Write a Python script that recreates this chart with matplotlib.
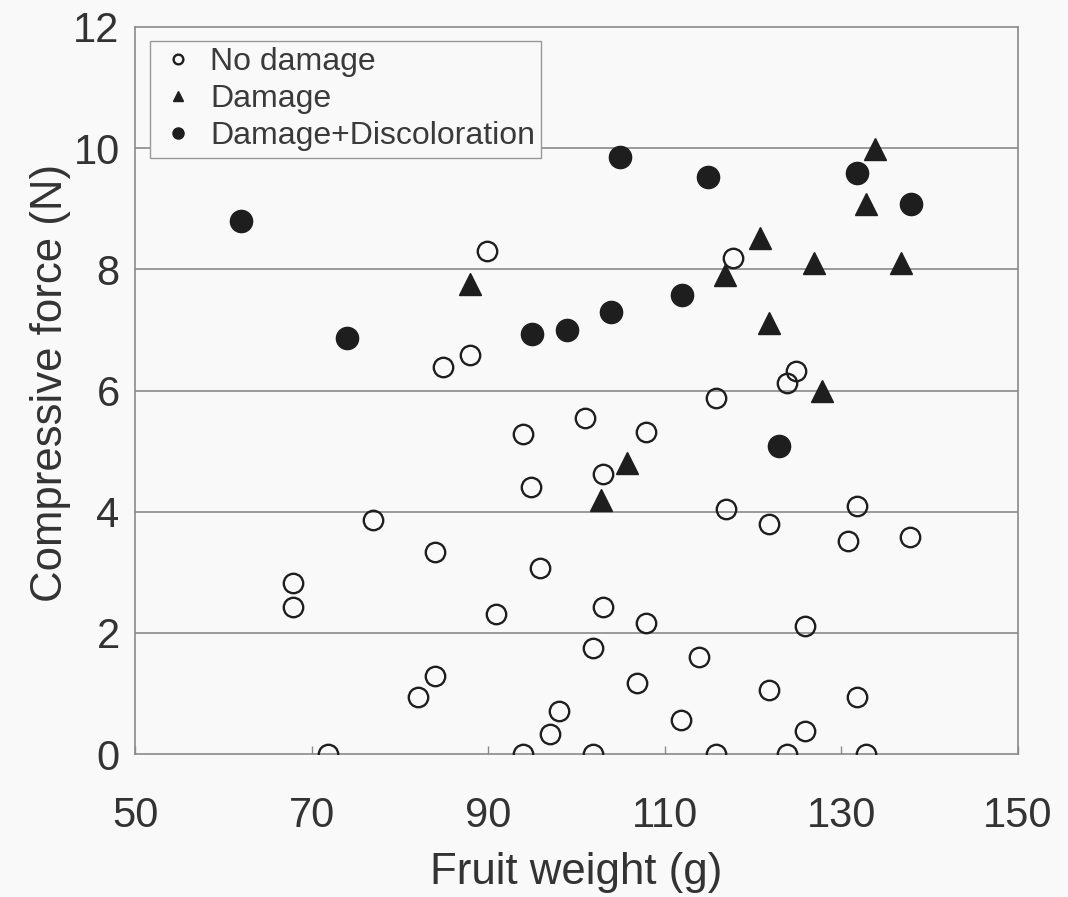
import matplotlib
matplotlib.use("Agg")
import matplotlib.pyplot as plt

# No damage (open circles)
nd_x = [71.9, 67.9, 67.9, 77.0, 84.0, 82.0, 84.0, 84.9, 87.9, 89.9, 90.9, 93.9,
        94.9, 95.9, 93.9, 97.0, 98.0, 101.0, 101.9, 101.9, 103.0, 103.0, 107.9,
        107.9, 106.9, 111.8, 113.9, 115.8, 116.9, 115.8, 117.7, 121.8, 121.8,
        123.8, 123.8, 124.9, 125.9, 125.9, 130.7, 131.8, 131.8, 132.8, 137.8]
nd_y = [0.0, 2.82, 2.42, 3.87, 3.33, 0.94, 1.29, 6.38, 6.58, 8.31, 2.31, 5.29,
        4.40, 3.07, 0.0, 0.33, 0.71, 5.54, 1.75, 0.0, 4.62, 2.42, 5.32,
        2.16, 1.17, 0.56, 1.60, 5.88, 4.05, 0.0, 8.19, 3.79, 1.05,
        0.0, 6.13, 6.33, 2.11, 0.38, 3.51, 4.10, 0.94, 0.0, 3.58]

# Damage (filled triangles)
dm_x = [87.9, 102.8, 105.7, 116.8, 120.8, 121.8, 126.9, 127.8, 132.8, 133.8, 136.7]
dm_y = [7.75, 4.19, 4.80, 7.90, 8.52, 7.12, 8.11, 6.00, 9.08, 9.99, 8.11]

# Damage + Discoloration (filled circles)
dd_x = [62.0, 74.0, 95.0, 98.9, 103.9, 104.9, 114.9, 111.9, 122.9, 131.8, 137.9]
dd_y = [8.79, 6.86, 6.94, 7.00, 7.29, 9.86, 9.53, 7.57, 5.08, 9.59, 9.08]

labels = ["No damage", "Damage", "Damage+Discoloration"]
x_ticks = [50, 70, 90, 110, 130, 150]
y_ticks = [0, 2, 4, 6, 8, 10, 12]

plt.rcParams['font.family'] = ['Liberation Sans', 'DejaVu Sans']

bg = '#faf9fa'
ink = '#1e1e1e'
txt = '#333333'
fig = plt.figure(figsize=(10.68, 8.97), dpi=100, facecolor=bg)
ax = fig.add_axes([0.1264, 0.1594, 0.8268, 0.8105])
ax.set_facecolor(bg)

for yv in y_ticks[1:-1]:
    ax.axhline(yv, color='#8a8a8a', lw=1.2, zorder=1)

ax.plot(nd_x, nd_y, 'o', ls='none', mfc='none', mec=ink, ms=14, mew=1.7,
        label=labels[0], zorder=3)
ax.plot(dm_x, dm_y, '^', ls='none', mfc=ink, mec=ink, ms=15.5, mew=1,
        label=labels[1], zorder=3)
ax.plot(dd_x, dd_y, 'o', ls='none', mfc=ink, mec=ink, ms=16, mew=1,
        label=labels[2], zorder=3)

ax.set_xlim(50, 150)
ax.set_ylim(0, 12)
ax.set_xticks(x_ticks)
ax.set_yticks(y_ticks)

for s in ax.spines.values():
    s.set_color('#8a8a8a')
    s.set_linewidth(1.2)

ax.tick_params(axis='x', direction='in', length=6, width=1, color='#8a8a8a',
               labelsize=30, labelcolor=txt, pad=30)
ax.tick_params(axis='y', length=0, labelsize=30, labelcolor=txt, pad=11)

ax.set_xlabel("Fruit weight (g)", fontsize=31.5, color=txt, labelpad=12)
ax.set_ylabel("Compressive force (N)", fontsize=31.5, color=txt)
ax.yaxis.set_label_coords(-0.072, 0.51)

leg = ax.legend(loc='upper left', bbox_to_anchor=(0.017, 0.981),
                borderaxespad=0, fontsize=23,
                markerscale=0.5, handlelength=1.35, handletextpad=0.33,
                borderpad=0.2, labelspacing=0.22, fancybox=False,
                framealpha=1, facecolor=bg, edgecolor='#999999')
leg.get_frame().set_linewidth(1.0)
for t in leg.get_texts():
    t.set_color('#3a3a3a')

fig.savefig("out.png", dpi=100, facecolor=bg)
